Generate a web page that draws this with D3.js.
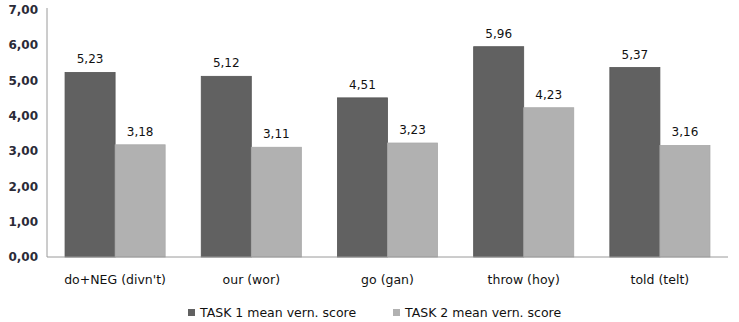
<!DOCTYPE html>
<html>
<head>
<meta charset="utf-8">
<script src="https://cdn.jsdelivr.net/npm/d3@7"></script>
<style>
  body { margin: 0; background: #fff; }
  #chart { width: 739px; height: 322px; }
  text { font-family: "DejaVu Sans", Verdana, sans-serif; }
</style>
</head>
<body>
<div id="chart"></div>
<script>
const categories = ["do+NEG (divn't)", "our (wor)", "go (gan)", "throw (hoy)", "told (telt)"];
const task1 = [5.23, 5.12, 4.51, 5.96, 5.37];
const task2 = [3.18, 3.11, 3.23, 4.23, 3.16];
const seriesNames = ["TASK 1 mean vern. score", "TASK 2 mean vern. score"];
const seriesColors = ["#616161", "#b1b1b1"];
const yTicks = [0, 1, 2, 3, 4, 5, 6, 7];

const fmt = v => d3.format(".2f")(v).replace(".", ",");

const width = 739, height = 322;
const margin = { top: 10, right: 11, bottom: 65, left: 47 };
const innerW = width - margin.left - margin.right;
const innerH = height - margin.top - margin.bottom;

const svg = d3.select("#chart").append("svg")
  .attr("width", width)
  .attr("height", height);

const g = svg.append("g")
  .attr("transform", `translate(${margin.left},${margin.top})`);

const x = d3.scaleBand().domain(categories).range([0, innerW]).paddingInner(0.265).paddingOuter(0.1325);
const xs = d3.scaleBand().domain([0, 1]).range([0, x.bandwidth()]);
const y = d3.scaleLinear().domain([0, 7]).range([innerH, 0]);

const rows = categories.map((c, i) => ({ cat: c, values: [task1[i], task2[i]] }));

// y tick labels (no tick marks, no gridlines)
g.selectAll(".ytick")
  .data(yTicks)
  .enter()
  .append("text")
  .attr("x", -9)
  .attr("y", d => y(d))
  .attr("dy", "0.35em")
  .attr("text-anchor", "end")
  .attr("font-size", "12px")
  .attr("font-weight", "bold")
  .attr("fill", "#2b2b38")
  .text(d => fmt(d));

// bars
const grp = g.selectAll(".grp")
  .data(rows)
  .enter()
  .append("g")
  .attr("transform", d => `translate(${x(d.cat)},0)`);

grp.selectAll("rect")
  .data(d => d.values.map((v, k) => ({ v, k })))
  .enter()
  .append("rect")
  .attr("x", d => xs(d.k))
  .attr("y", d => y(d.v))
  .attr("width", xs.bandwidth())
  .attr("height", d => innerH - y(d.v))
  .attr("fill", d => seriesColors[d.k])
  .attr("stroke", d => d.k === 0 ? "#555" : "#a8a8a8")
  .attr("stroke-width", 0.8);

grp.selectAll(".val")
  .data(d => d.values.map((v, k) => ({ v, k })))
  .enter()
  .append("text")
  .attr("x", d => xs(d.k) + xs.bandwidth() / 2)
  .attr("y", d => y(d.v) - 9)
  .attr("text-anchor", "middle")
  .attr("font-size", "12px")
  .attr("fill", "#111")
  .text(d => fmt(d.v));

// axes lines
g.append("line")
  .attr("x1", 0).attr("x2", 0)
  .attr("y1", y(7) - 2).attr("y2", innerH)
  .attr("stroke", "#9a9a9a");
g.append("line")
  .attr("x1", 0).attr("x2", innerW)
  .attr("y1", innerH).attr("y2", innerH)
  .attr("stroke", "#9a9a9a");

// category labels
g.selectAll(".cat")
  .data(categories)
  .enter()
  .append("text")
  .attr("x", d => x(d) + x.bandwidth() / 2)
  .attr("y", innerH + 27)
  .attr("text-anchor", "middle")
  .attr("font-size", "12.5px")
  .attr("fill", "#111")
  .text(d => d);

// legend
const legendX = [188, 393];
const legend = svg.selectAll(".leg")
  .data(seriesNames)
  .enter()
  .append("g")
  .attr("transform", (d, i) => `translate(${legendX[i]},309)`);

legend.append("rect")
  .attr("width", 7).attr("height", 7)
  .attr("fill", (d, i) => seriesColors[i]);

legend.append("text")
  .attr("x", 12)
  .attr("y", 4)
  .attr("dy", "0.35em")
  .attr("font-size", "12.5px")
  .attr("fill", "#111")
  .text(d => d);
</script>
</body>
</html>
